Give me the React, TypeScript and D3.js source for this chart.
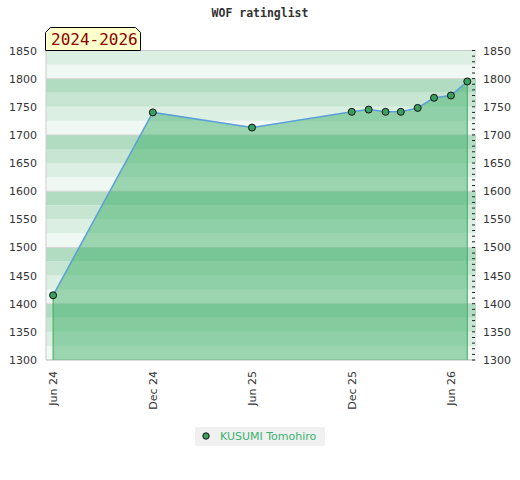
import React, { useEffect } from 'react';
import * as d3 from 'd3';

// monthly rating snapshots (first of month)
const months = ['2024-06', '2024-12', '2025-06', '2025-12', '2026-01', '2026-02', '2026-03', '2026-04', '2026-05', '2026-06', '2026-07'];
const ratings = [1415, 1740, 1713, 1741, 1745, 1741, 1741, 1748, 1766, 1770, 1795];

const xTickMonths = ['2024-06', '2024-12', '2025-06', '2025-12', '2026-06'];
const xTickLabels = ['Jun 24', 'Dec 24', 'Jun 25', 'Dec 25', 'Jun 26'];
const yTicks = [1300, 1350, 1400, 1450, 1500, 1550, 1600, 1650, 1700, 1750, 1800, 1850];

const playerName = 'KUSUMI Tomohiro';
const period = '2024-2026';
const title = 'WOF ratinglist';

const parseMonth = d3.timeParse('%Y-%m');

// band shades, index = (value % 100) / 25
const bandColors = ['#f0f8f3', '#dcefe3', '#c7e6d2', '#b1dcc1'];

const App: React.FC = () => {
  useEffect(() => {
    document.body.style.margin = '0';
  }, []);

  const left = 46, right = 476, top = 50.5, bottom = 360;

  const x = d3.scaleTime()
    .domain([new Date(2024, 4, 19), new Date(2026, 6, 17)])
    .range([left, right]);
  const y = d3.scaleLinear().domain([1300, 1850]).range([bottom, top]);

  const data = months.map((m, i) => ({ date: parseMonth(m)!, value: ratings[i] }));

  const bands = d3.range(1300, 1850, 25);
  const minor = d3.range(1300, 1851, 10);

  const area = d3.area<{ date: Date; value: number }>()
    .x(d => x(d.date))
    .y0(bottom)
    .y1(d => y(d.value));
  const line = d3.line<{ date: Date; value: number }>()
    .x(d => x(d.date))
    .y(d => y(d.value));

  const first = data[0], last = data[data.length - 1];

  return (
    <svg width={520} height={480} style={{ display: 'block' }} fontFamily="DejaVu Sans">
      <text x={260} y={17} textAnchor="middle" fontFamily="DejaVu Sans Mono" fontWeight="bold" fontSize={11.5} fill="#333">{title}</text>

      {/* background bands */}
      {bands.map(b => (
        <rect key={b} x={left} width={right - left} y={y(b + 25)} height={y(b) - y(b + 25)}
          fill={bandColors[(b % 100) / 25]} />
      ))}
      {d3.range(1400, 1850, 100).map(v => (
        <line key={v} x1={left} x2={right} y1={y(v)} y2={y(v)} stroke="#d6d6d6" strokeWidth={1} />
      ))}
      <line x1={left} x2={right} y1={top} y2={top} stroke="#cccccc" />
      <line x1={left} x2={right} y1={bottom} y2={bottom} stroke="#cccccc" strokeWidth={1.5} />
      <line x1={left} x2={left} y1={top} y2={bottom} stroke="#cccccc" />

      {/* rating area */}
      <path d={area(data)!} fill="rgb(50,170,95)" fillOpacity={0.45} />
      <line x1={x(first.date)} x2={x(first.date)} y1={y(first.value)} y2={bottom} stroke="#3cab60" strokeWidth={1} />
      <line x1={x(last.date)} x2={x(last.date)} y1={y(last.value)} y2={bottom} stroke="#3cab60" strokeWidth={1} />
      <path d={line(data)!} fill="none" stroke="#5a9fd8" strokeWidth={1.5} />
      {data.map((d, i) => (
        <circle key={i} cx={x(d.date)} cy={y(d.value)} r={3.5} fill="#3aa060" stroke="#111" strokeWidth={1} />
      ))}

      {/* right minor ticks */}
      {minor.map(v => (
        <line key={v} x1={right - 4} x2={right - 1} y1={y(v)} y2={y(v)} stroke="#222" strokeWidth={1} />
      ))}

      {/* y labels */}
      {yTicks.map(v => (
        <g key={v}>
          <text x={37} y={y(v) + 4} textAnchor="end" fontSize={11} fill="#333">{v}</text>
          <text x={483} y={y(v) + 4} textAnchor="start" fontSize={11} fill="#333">{v}</text>
        </g>
      ))}

      {/* x labels */}
      {xTickMonths.map((m, i) => {
        const px = x(parseMonth(m)!) + 4;
        return (
          <text key={m} transform={`translate(${px},371) rotate(-90)`} textAnchor="end" fontSize={11} fill="#333">
            {xTickLabels[i]}
          </text>
        );
      })}

      {/* period badge */}
      <path d="M45.5,50.5 L45.5,32.5 L50.5,27.5 L135.5,27.5 L140.5,32.5 L140.5,50.5 Z" fill="#ffffcc" stroke="#000" strokeWidth={1} />
      <text x={51} y={45} fontFamily="DejaVu Sans Mono" fontSize={16} fill="#8b0000">{period}</text>

      {/* legend */}
      <rect x={195} y={427} width={130} height={19} fill="#f0f0f0" />
      <circle cx={206} cy={436} r={3.2} fill="#3aa060" stroke="#111" strokeWidth={1} />
      <text x={220} y={440} fontSize={11} fill="#3cb371">{playerName}</text>
    </svg>
  );
};

export default App;
